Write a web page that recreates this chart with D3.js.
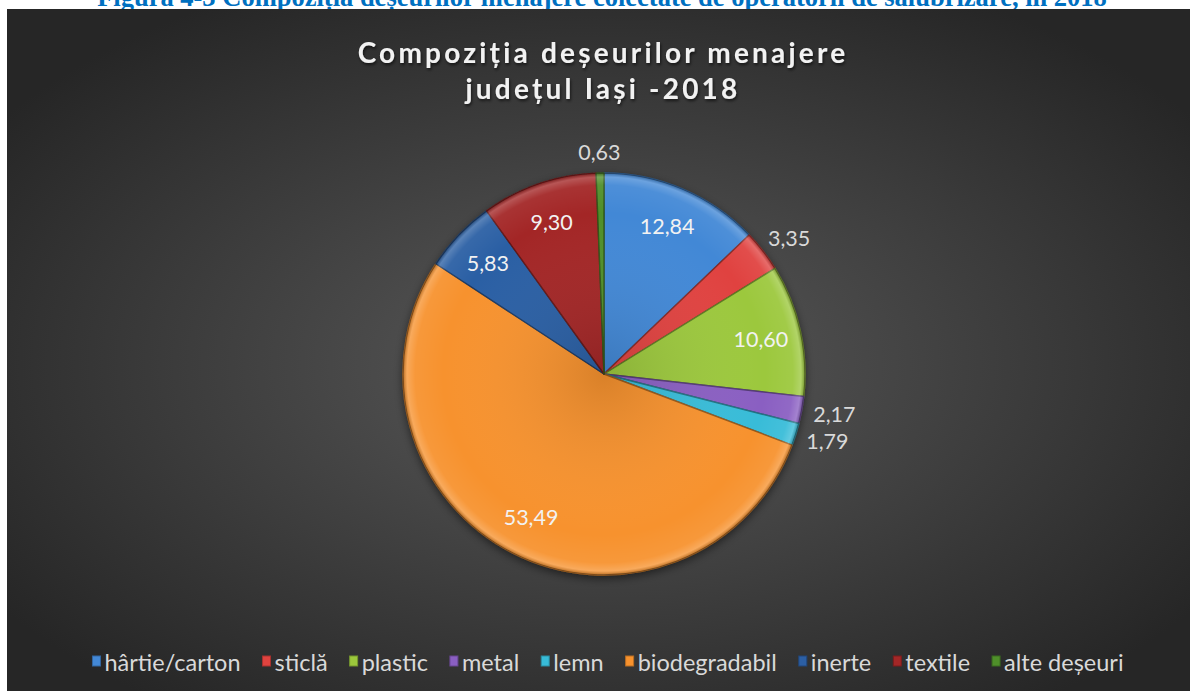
<!DOCTYPE html>
<html>
<head>
<meta charset="utf-8">
<script src="https://cdn.jsdelivr.net/npm/d3@7"></script>
<style>
  body { margin: 0; background: #fff; }
  svg { display: block; }
</style>
</head>
<body>
<div id="chart"></div>
<script>
// Data
var categories = ["hârtie/carton", "sticlă", "plastic", "metal", "lemn", "biodegradabil", "inerte", "textile", "alte deșeuri"];
var values = [12.84, 3.35, 10.60, 2.17, 1.79, 53.49, 5.83, 9.30, 0.63];
var colors = ["#4388d6", "#e0433f", "#9cc83c", "#8a5fc2", "#38bcd8", "#f7922e", "#2c5fa4", "#a32727", "#4f8f2a"];
// labels that Excel put outside the pie
var outside = [false, true, false, true, true, false, false, false, true];

var W = 1190, H = 691;

var svg = d3.select("#chart").append("svg")
    .attr("width", W)
    .attr("height", H);

var defs = svg.append("defs");

// background gradient
var bg = defs.append("radialGradient")
    .attr("id", "bg")
    .attr("cx", "50%").attr("cy", "52%").attr("r", "62%");
bg.append("stop").attr("offset", "0%").attr("stop-color", "#5a5a5a");
bg.append("stop").attr("offset", "100%").attr("stop-color", "#262626");

// soft shadow for text and pie
var sh = defs.append("filter").attr("id", "tshadow").attr("x", "-10%").attr("y", "-30%").attr("width", "120%").attr("height", "160%");
sh.append("feDropShadow").attr("dx", 1).attr("dy", 2).attr("stdDeviation", 1.5).attr("flood-color", "#000").attr("flood-opacity", 0.6);

var psh = defs.append("filter").attr("id", "pshadow").attr("x", "-20%").attr("y", "-20%").attr("width", "140%").attr("height", "140%");
psh.append("feDropShadow").attr("dx", 0).attr("dy", 3).attr("stdDeviation", 4).attr("flood-color", "#000").attr("flood-opacity", 0.5);

// rim highlight for the bevel look
var rim = defs.append("radialGradient")
    .attr("id", "rim")
    .attr("gradientUnits", "userSpaceOnUse")
    .attr("cx", 0).attr("cy", 0).attr("r", 201);
rim.append("stop").attr("offset", "0%").attr("stop-color", "#000").attr("stop-opacity", 0.12);
rim.append("stop").attr("offset", "80%").attr("stop-color", "#fff").attr("stop-opacity", 0);
rim.append("stop").attr("offset", "94%").attr("stop-color", "#fff").attr("stop-opacity", 0.06);
rim.append("stop").attr("offset", "98%").attr("stop-color", "#fff").attr("stop-opacity", 0.22);
rim.append("stop").attr("offset", "100%").attr("stop-color", "#000").attr("stop-opacity", 0.25);

// Caption of the figure (cut by the chart box)
svg.append("text")
    .attr("x", 602)
    .attr("y", 6)
    .attr("text-anchor", "middle")
    .style("font-family", "'Liberation Serif', 'Times New Roman', serif")
    .style("font-weight", "bold")
    .style("font-size", "26.5px")
    .style("fill", "#0070c0")
    .text("Figura 4-3 Compoziția deșeurilor menajere colectate de operatorii de salubrizare, în 2018");

// chart box
svg.append("rect")
    .attr("x", 7)
    .attr("y", 9)
    .attr("width", W - 7)
    .attr("height", H - 9)
    .attr("fill", "url(#bg)");

// Title
var titleLines = ["Compoziția deșeurilor menajere", "județul Iași -2018"];
svg.append("g").selectAll("text")
    .data(titleLines)
    .enter().append("text")
    .attr("x", 603)
    .attr("y", function(d, i) { return 63 + i * 36; })
    .attr("text-anchor", "middle")
    .attr("filter", "url(#tshadow)")
    .style("font-family", "Lato, sans-serif")
    .style("font-weight", "bold")
    .style("font-size", "28px")
    .style("letter-spacing", "3.2px")
    .style("fill", "#f2f2f2")
    .text(function(d) { return d; });

// Pie
var cx = 604, cy = 374, radius = 201;

var pie = d3.pie().sort(null).value(function(d) { return d; });
var arcs = pie(values);

var arc = d3.arc().innerRadius(0).outerRadius(radius);
var labelArc = d3.arc().innerRadius(radius * 0.8).outerRadius(radius * 0.8);

var g = svg.append("g")
    .attr("transform", "translate(" + cx + "," + cy + ")");

var slices = g.append("g").attr("filter", "url(#pshadow)");

slices.selectAll("path.slice")
    .data(arcs)
    .enter().append("path")
    .attr("class", "slice")
    .attr("d", arc)
    .attr("fill", function(d, i) { return colors[i]; })
    .attr("stroke", function(d, i) { return d3.color(colors[i]).darker(1.4); })
    .attr("stroke-width", 1.4)
    .attr("stroke-linejoin", "round");

// bevel overlay
g.selectAll("path.shade")
    .data(arcs)
    .enter().append("path")
    .attr("class", "shade")
    .attr("d", arc)
    .attr("fill", "url(#rim)")
    .attr("stroke", "none");

// Data labels
function fmt(v) { return v.toFixed(2).replace(".", ","); }

var labels = g.append("g")
    .style("font-family", "Lato, sans-serif")
    .style("font-size", "21.5px");

labels.selectAll("text")
    .data(arcs)
    .enter().append("text")
    .attr("text-anchor", "middle")
    .attr("dominant-baseline", "central")
    .style("fill", function(d, i) { return outside[i] ? "#d9d9d9" : "#f2f2f2"; })
    .text(function(d) { return fmt(d.data); })
    .each(function(d, i) {
        var t = d3.select(this);
        var p;
        if (outside[i]) {
            var a = (d.startAngle + d.endAngle) / 2;
            var w = this.getComputedTextLength();
            var rr = radius + 12;
            p = [Math.sin(a) * rr + Math.sin(a) * w / 2, -Math.cos(a) * rr - Math.cos(a) * 9];
        } else {
            p = labelArc.centroid(d);
        }
        t.attr("x", p[0]).attr("y", p[1]);
    });

// Legend
var legend = svg.append("g")
    .style("font-family", "Lato, sans-serif")
    .style("font-size", "23.5px");

var items = legend.selectAll("g")
    .data(categories)
    .enter().append("g");

items.append("rect")
    .attr("width", 8)
    .attr("height", 10)
    .attr("y", -6)
    .attr("fill", function(d, i) { return colors[i]; })
    .attr("stroke", function(d, i) { return d3.color(colors[i]).darker(0.8); })
    .attr("stroke-width", 1);

items.append("text")
    .attr("x", 12)
    .attr("y", 0)
    .attr("dominant-baseline", "central")
    .style("fill", "#d9d9d9")
    .text(function(d) { return d; });

var gap = 22, xPos = 0, offsets = [];
items.each(function(d, i) {
    offsets.push(xPos);
    xPos += 12 + d3.select(this).select("text").node().getComputedTextLength() + gap;
});
var total = xPos - gap;
var startX = 608 - total / 2;
items.attr("transform", function(d, i) { return "translate(" + (startX + offsets[i]) + ",662)"; });
</script>
</body>
</html>
